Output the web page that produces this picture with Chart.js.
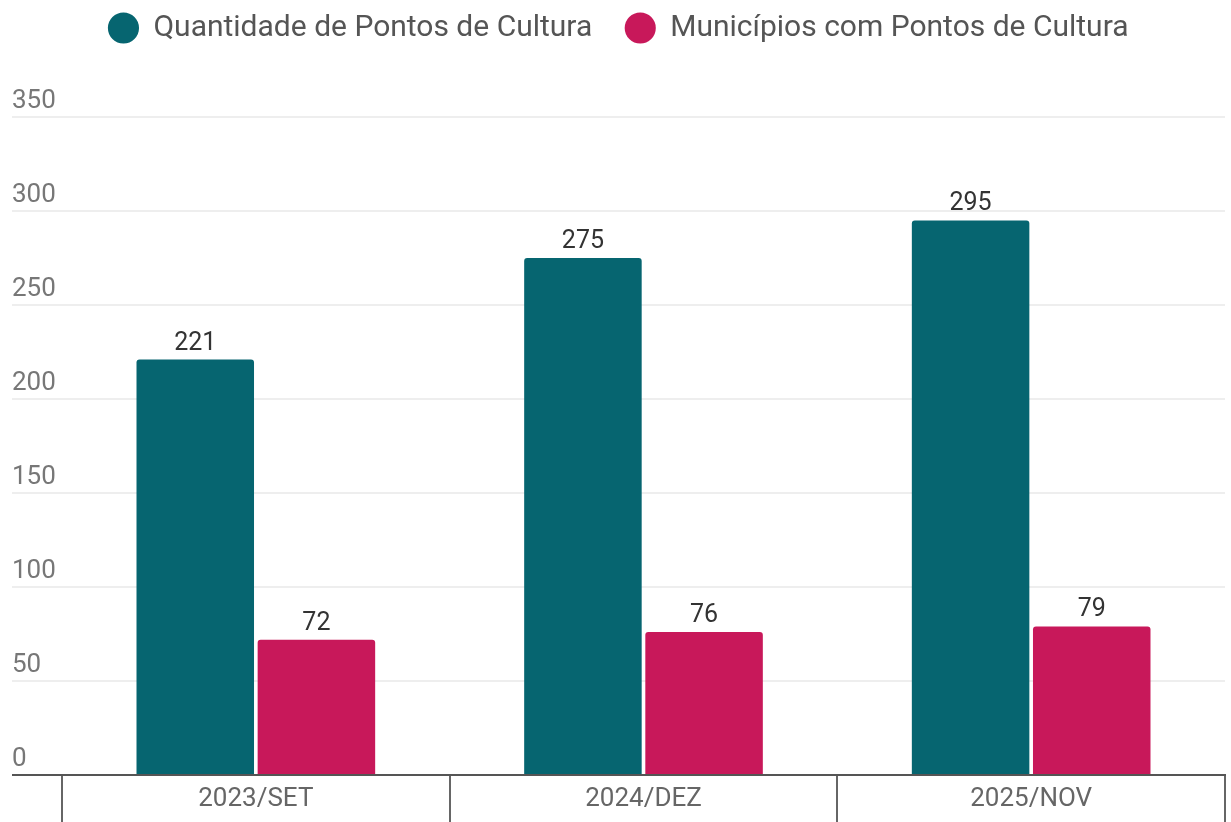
<!DOCTYPE html>
<html>
<head>
<meta charset="utf-8">
<script src="https://cdn.jsdelivr.net/npm/chart.js@4"></script>
<style>
  html, body { margin: 0; padding: 0; background: #ffffff; }
  #wrap { width: 1231px; height: 822px; }
</style>
</head>
<body>
<div id="wrap"><canvas id="c" width="1231" height="822"></canvas></div>
<script>
const categories = ['2023/SET', '2024/DEZ', '2025/NOV'];
const seriesNames = ['Quantidade de Pontos de Cultura', 'Municípios com Pontos de Cultura'];
const pontos = [221, 275, 295];
const municipios = [72, 76, 79];
const yTicks = [0, 50, 100, 150, 200, 250, 300, 350];

const colors = ['#066570', '#C8185A'];

Chart.defaults.font.family = 'Roboto, "Noto Sans", sans-serif';

const valueLabels = {
  id: 'valueLabels',
  afterDatasetsDraw(chart) {
    const ctx = chart.ctx;
    ctx.save();
    ctx.font = '25px Roboto, sans-serif';
    ctx.fillStyle = '#333333';
    ctx.textAlign = 'center';
    ctx.textBaseline = 'alphabetic';
    chart.data.datasets.forEach((ds, di) => {
      const meta = chart.getDatasetMeta(di);
      meta.data.forEach((el, i) => {
        ctx.fillText(String(ds.data[i]), el.x, el.y - 10);
      });
    });
    ctx.restore();
  }
};

new Chart(document.getElementById('c'), {
  type: 'bar',
  data: {
    labels: categories,
    datasets: [
      { label: seriesNames[0], data: pontos, backgroundColor: colors[0], borderRadius: 3,
        categoryPercentage: 0.625, barPercentage: 0.97 },
      { label: seriesNames[1], data: municipios, backgroundColor: colors[1], borderRadius: 3,
        categoryPercentage: 0.625, barPercentage: 0.97 }
    ]
  },
  options: {
    responsive: false,
    animation: false,
    layout: { padding: { top: -20, left: 12, right: 6, bottom: 0 } },
    plugins: {
      legend: {
        position: 'top',
        align: 'center',
        labels: {
          usePointStyle: true,
          pointStyle: 'circle',
          boxWidth: 30,
          boxHeight: 22,
          padding: 33,
          color: '#555555',
          font: { size: 30 }
        }
      },
      subtitle: {
        display: true,
        position: 'top',
        weight: 500,
        text: ' ',
        font: { size: 10 },
        padding: { top: 0, bottom: 52 }
      },
      tooltip: { enabled: false }
    },
    scales: {
      x: {
        offset: true,
        grid: {
          offset: true,
          drawOnChartArea: false,
          drawTicks: true,
          tickLength: 48,
          color: '#666666',
          lineWidth: 2
        },
        border: { display: true, color: '#555555', width: 2, z: 1 },
        ticks: { padding: -39, color: '#666666', font: { size: 26 } },
        afterFit(scale) { scale.height = 47; scale.paddingLeft = 0; scale.paddingRight = 0; }
      },
      y: {
        min: 0,
        max: 350,
        afterBuildTicks(scale) { scale.ticks = yTicks.map(v => ({ value: v })); },
        grid: {
          drawTicks: true,
          tickLength: 50,
          color: (c) => (c.tick && c.tick.value === 0) ? '#555555' : '#eeeeee',
          tickColor: (c) => (c.tick && c.tick.value === 0) ? '#555555' : '#eeeeee',
          lineWidth: 2
        },
        border: { display: false },
        ticks: {
          crossAlign: 'far',
          padding: 0,
          labelOffset: -16,
          color: '#777777',
          font: { size: 26 }
        },
        afterFit(scale) { scale.width = 50; scale.paddingTop = 0; scale.paddingBottom = 0; }
      }
    }
  },
  plugins: [valueLabels]
});
</script>
</body>
</html>
